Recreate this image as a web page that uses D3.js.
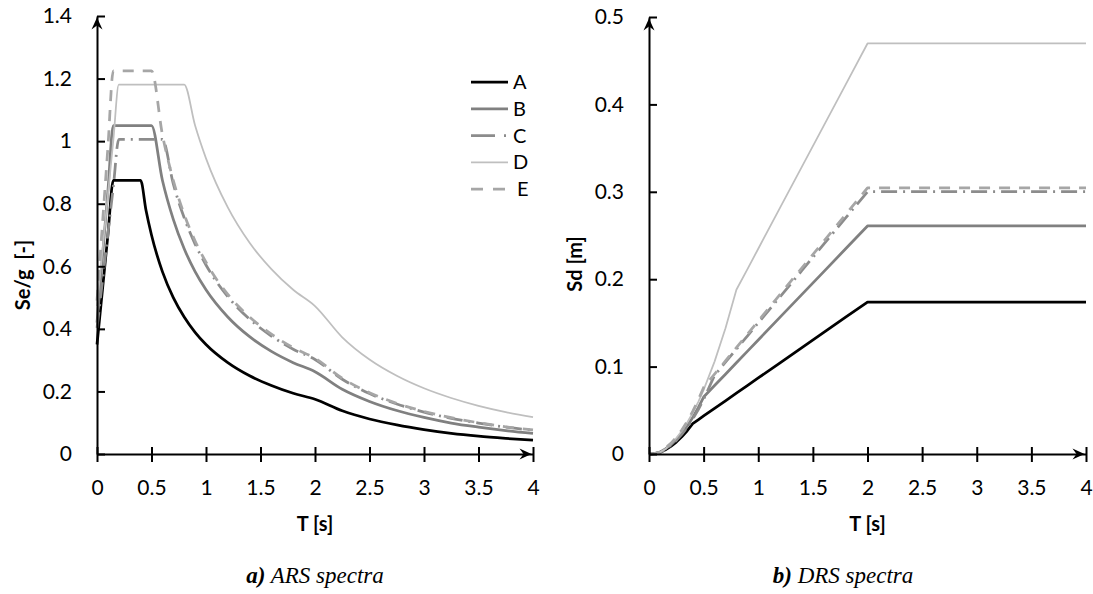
<html>
<head>
<meta charset="utf-8">
<script src="https://d3js.org/d3.v7.min.js"></script>
<style>
  body { margin: 0; background: #fff; }
</style>
</head>
<body>
<div id="chart"></div>
<script>

// period grid shared by every series
var T = [0, 0.05, 0.1, 0.15, 0.2, 0.25, 0.3, 0.35, 0.4, 0.45, 0.5, 0.6, 0.7, 0.8, 0.9, 1,
         1.2, 1.4, 1.6, 1.8, 2, 2.25, 2.5, 2.75, 3, 3.25, 3.5, 3.75, 4];

var names = ["A", "B", "C", "D", "E"];

// a) ARS spectra, Se/g
var seA = [0.35, 0.525, 0.70, 0.875, 0.875, 0.875, 0.875, 0.875, 0.875, 0.778, 0.70, 0.583, 0.50, 0.438, 0.389, 0.35,
           0.292, 0.25, 0.219, 0.194, 0.175, 0.138, 0.112, 0.093, 0.078, 0.066, 0.057, 0.050, 0.044];
var seB = [0.42, 0.63, 0.84, 1.05, 1.05, 1.05, 1.05, 1.05, 1.05, 1.05, 1.05, 0.875, 0.75, 0.656, 0.583, 0.525,
           0.438, 0.375, 0.328, 0.292, 0.263, 0.207, 0.168, 0.139, 0.117, 0.099, 0.086, 0.075, 0.066];
var seC = [0.403, 0.553, 0.704, 0.855, 1.006, 1.006, 1.006, 1.006, 1.006, 1.006, 1.006, 1.006, 0.863, 0.755, 0.671, 0.604,
           0.503, 0.431, 0.377, 0.335, 0.302, 0.239, 0.193, 0.160, 0.134, 0.114, 0.099, 0.086, 0.076];
var seD = [0.473, 0.650, 0.827, 1.004, 1.181, 1.181, 1.181, 1.181, 1.181, 1.181, 1.181, 1.181, 1.181, 1.181, 1.05, 0.945,
           0.788, 0.675, 0.591, 0.525, 0.473, 0.373, 0.302, 0.250, 0.210, 0.179, 0.154, 0.134, 0.118];
var seE = [0.49, 0.735, 0.98, 1.225, 1.225, 1.225, 1.225, 1.225, 1.225, 1.225, 1.225, 1.021, 0.875, 0.766, 0.681, 0.613,
           0.510, 0.438, 0.383, 0.340, 0.306, 0.242, 0.196, 0.162, 0.136, 0.116, 0.100, 0.087, 0.077];

// b) DRS spectra, Sd [m]
var sdA = [0, 0.0003, 0.0017, 0.0049, 0.0087, 0.0136, 0.0196, 0.0266, 0.0348, 0.0391, 0.0435, 0.0522, 0.0609, 0.0696, 0.0783, 0.0870,
           0.1044, 0.1218, 0.1392, 0.1566, 0.1739, 0.1739, 0.1739, 0.1739, 0.1739, 0.1739, 0.1739, 0.1739, 0.1739];
var sdB = [0, 0.0004, 0.0021, 0.0059, 0.0104, 0.0163, 0.0235, 0.0320, 0.0418, 0.0528, 0.0652, 0.0783, 0.0913, 0.1044, 0.1174, 0.1305,
           0.1566, 0.1826, 0.2087, 0.2348, 0.2609, 0.2609, 0.2609, 0.2609, 0.2609, 0.2609, 0.2609, 0.2609, 0.2609];
var sdC = [0, 0.0003, 0.0018, 0.0048, 0.0100, 0.0156, 0.0225, 0.0306, 0.0400, 0.0506, 0.0625, 0.0900, 0.1050, 0.1200, 0.1350, 0.1500,
           0.1800, 0.2100, 0.2401, 0.2701, 0.3001, 0.3001, 0.3001, 0.3001, 0.3001, 0.3001, 0.3001, 0.3001, 0.3001];
var sdD = [0, 0.0004, 0.0021, 0.0056, 0.0117, 0.0183, 0.0264, 0.0360, 0.0470, 0.0594, 0.0734, 0.1057, 0.1438, 0.1879, 0.2113, 0.2348,
           0.2818, 0.3288, 0.3757, 0.4227, 0.4697, 0.4697, 0.4697, 0.4697, 0.4697, 0.4697, 0.4697, 0.4697, 0.4697];
var sdE = [0, 0.0005, 0.0024, 0.0068, 0.0122, 0.0190, 0.0274, 0.0373, 0.0487, 0.0616, 0.0761, 0.0913, 0.1065, 0.1218, 0.1370, 0.1522,
           0.1826, 0.2131, 0.2435, 0.2740, 0.3044, 0.3044, 0.3044, 0.3044, 0.3044, 0.3044, 0.3044, 0.3044, 0.3044];

var xTicks = [0, 0.5, 1, 1.5, 2, 2.5, 3, 3.5, 4];
var seTicks = [0, 0.2, 0.4, 0.6, 0.8, 1, 1.2, 1.4];
var sdTicks = [0, 0.1, 0.2, 0.3, 0.4, 0.5];

// line look per series
var styles = {
  A: {color: "#000000", width: 2.75, dash: null, key: null},
  B: {color: "#808080", width: 2.75, dash: null, key: null},
  C: {color: "#8c8c8c", width: 2.75, dash: "16,6,2,6", key: "24,9,2,6"},
  D: {color: "#bfbfbf", width: 1.75, dash: null, key: null},
  E: {color: "#a6a6a6", width: 2.75, dash: "11,9", key: "12,10"}
};

var sans = "Lato, 'Open Sans', sans-serif";
var serif = "'Liberation Serif', 'DejaVu Serif', serif";

var svg = d3.select("#chart").append("svg")
    .attr("width", 1093)
    .attr("height", 594)
    .attr("font-family", sans);

function arrow(g, x, y, dir) {
  // stealth arrow head, dir "up" or "right"
  var p = dir == "up"
    ? [[x, y], [x - 5.5, y + 12], [x, y + 8], [x + 5.5, y + 12]]
    : [[x, y], [x - 12, y - 5.5], [x - 8, y], [x - 12, y + 5.5]];
  g.append("path")
    .attr("d", "M" + p.join("L") + "Z")
    .attr("fill", "#000");
}

function panel(opts) {
  var x = d3.scaleLinear().domain([0, 4]).range([opts.left, opts.right]);
  var y = d3.scaleLinear().domain(opts.yDomain).range([454, opts.top]);
  var g = svg.append("g");

  // curves
  var line = d3.line()
    .x(function(d) { return x(d[0]); })
    .y(function(d) { return y(d[1]); })
    .curve(opts.curve);

  names.forEach(function(n, i) {
    var s = styles[n];
    g.append("path")
      .datum(T.map(function(t, j) { return [t, opts.series[i][j]]; }))
      .attr("d", line)
      .attr("fill", "none")
      .attr("stroke", s.color)
      .attr("stroke-width", s.width)
      .attr("stroke-dasharray", s.dash)
      .attr("stroke-linejoin", "round");
  });

  // axes
  var xAxis = g.append("g")
    .attr("transform", "translate(0," + y(0) + ")")
    .call(d3.axisBottom(x).tickValues(xTicks).tickFormat(d3.format("")).tickSize(8).tickSizeOuter(0).tickPadding(18));
  xAxis.selectAll(".tick line").attr("y1", -7).attr("stroke-width", 2);
  xAxis.select(".domain").attr("stroke-width", 2);

  var yAxis = g.append("g")
    .attr("transform", "translate(" + x(0) + ",0)")
    .call(d3.axisLeft(y).tickValues(opts.yTicks).tickFormat(d3.format("")).tickSize(7).tickSizeOuter(0).tickPadding(18));
  yAxis.selectAll(".tick line").attr("x2", 8).attr("stroke-width", 2);
  yAxis.select(".domain").attr("stroke-width", 2);

  g.selectAll(".tick text")
    .attr("font-family", sans)
    .attr("font-size", 21)
    .attr("fill", "#000");

  arrow(g, x(0), opts.top + 1.5, "up");
  arrow(g, opts.right - 1.5, y(0), "right");

  // titles
  g.append("text")
    .attr("x", (opts.left + opts.right) / 2)
    .attr("y", 531)
    .attr("text-anchor", "middle")
    .attr("font-size", 20)
    .attr("font-weight", "bold")
    .text("T [s]");

  g.append("text")
    .attr("transform", "translate(" + opts.yTitleX + "," + opts.yTitleY + ")rotate(-90)")
    .attr("text-anchor", "middle")
    .attr("dy", "0.35em")
    .attr("font-size", 20)
    .attr("font-weight", "bold")
    .style("white-space", "pre")
    .text(opts.yTitle);

  var cap = g.append("text")
    .attr("x", opts.captionX)
    .attr("y", 583)
    .attr("text-anchor", "middle")
    .attr("font-family", serif)
    .attr("font-style", "italic")
    .attr("font-size", 23);
  cap.append("tspan").attr("font-family", serif).attr("font-weight", "bold").text(opts.captionTag);
  cap.append("tspan").attr("font-family", serif).text(" " + opts.caption);

  return g;
}

var left = panel({
  left: 97, right: 533, top: 16,
  yDomain: [0, 1.4], yTicks: seTicks,
  series: [seA, seB, seC, seD, seE],
  curve: d3.curveMonotoneX,
  yTitle: "Se/g  [-]", yTitleX: 23, yTitleY: 275,
  captionTag: "a)", caption: "ARS spectra", captionX: 315
});

panel({
  left: 649, right: 1086, top: 17,
  yDomain: [0, 0.5], yTicks: sdTicks,
  series: [sdA, sdB, sdC, sdD, sdE],
  curve: d3.curveLinear,
  yTitle: "Sd [m]", yTitleX: 575, yTitleY: 264,
  captionTag: "b)", caption: "DRS spectra", captionX: 843
});

// legend (left panel only)
var legend = left.append("g");
names.forEach(function(n, i) {
  var s = styles[n];
  var yy = 82 + i * 26.75;
  legend.append("line")
    .attr("x1", 471).attr("x2", 508)
    .attr("y1", yy).attr("y2", yy)
    .attr("stroke", s.color)
    .attr("stroke-width", s.width)
    .attr("stroke-dasharray", s.key);
  legend.append("text")
    .attr("x", n == "E" ? 517 : 513)
    .attr("y", yy)
    .attr("dy", "0.35em")
    .attr("font-size", 20)
    .text(n);
});

</script>
</body>
</html>
